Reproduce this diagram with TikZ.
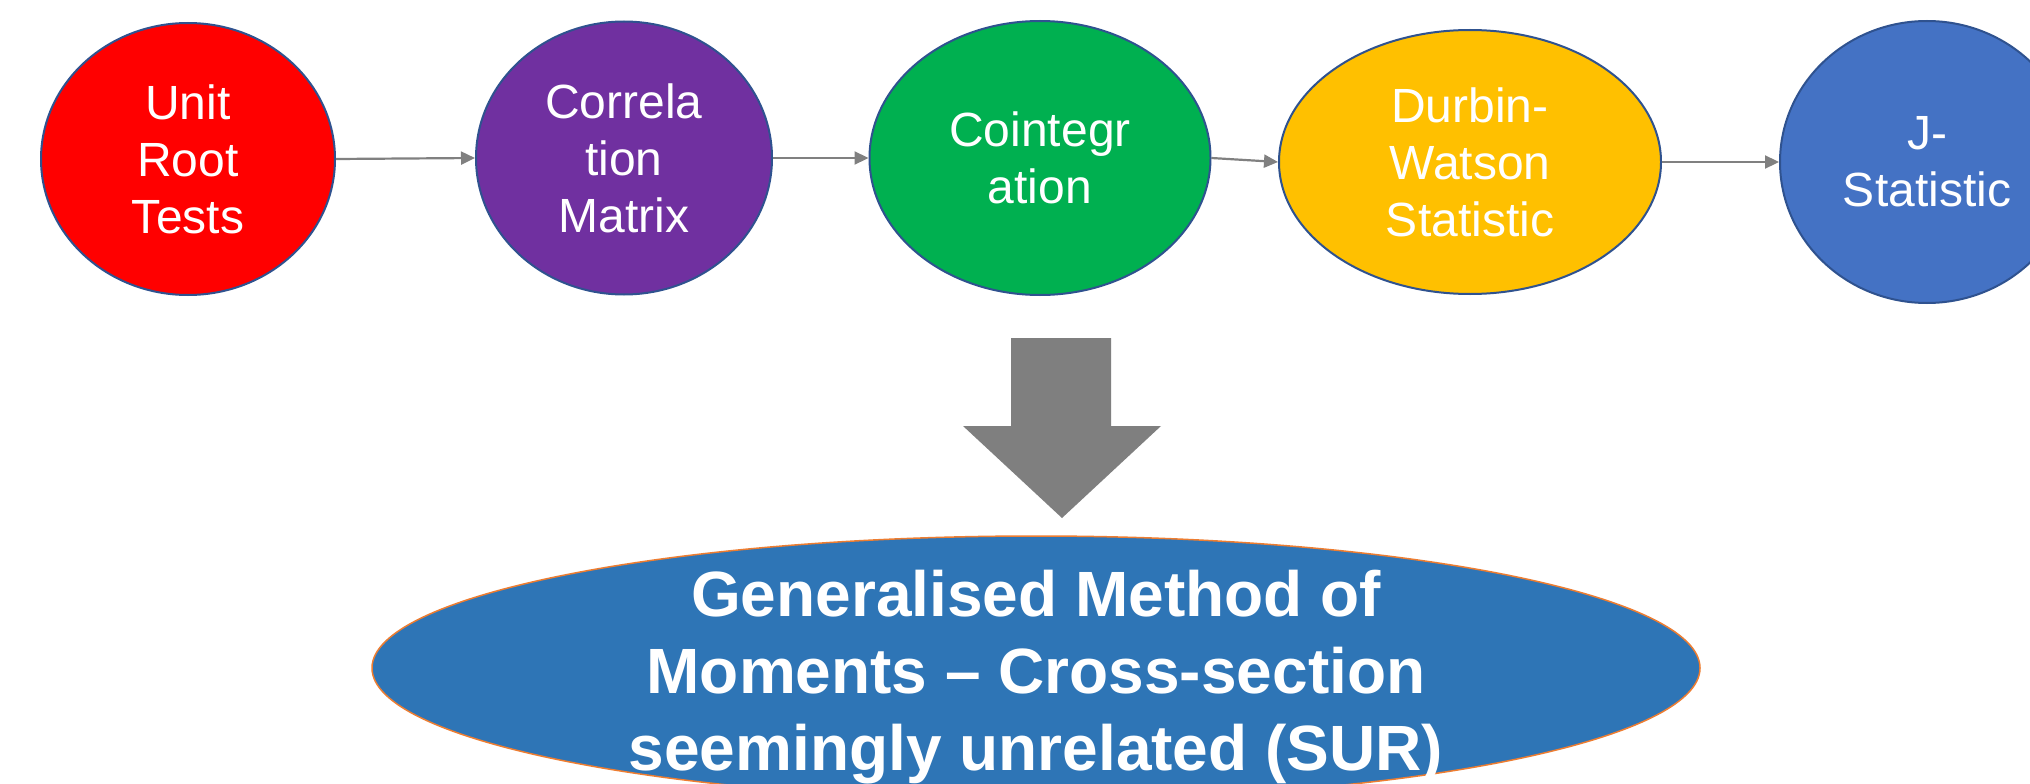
\documentclass[tikz,border=0pt]{standalone}
\usepackage{fontspec}
\setmainfont{Liberation Sans}
\usetikzlibrary{shapes.geometric,arrows.meta}
\definecolor{cred}{HTML}{FF0000}
\definecolor{cpurple}{HTML}{7030A0}
\definecolor{cgreen}{HTML}{00B050}
\definecolor{cyellow}{HTML}{FFC000}
\definecolor{cblue}{HTML}{4472C4}
\definecolor{cborder}{HTML}{2F528F}
\definecolor{cgray}{HTML}{808080}
\definecolor{cbig}{HTML}{7F7F7F}
\definecolor{csur}{HTML}{2E75B6}
\definecolor{corange}{HTML}{ED7D31}
\begin{document}
\begin{tikzpicture}[x=1pt,y=-1pt,
  stage/.style={ellipse, draw=cborder, line width=2pt, inner sep=0pt, text=white,
    align=center, font=\fontsize{48}{57}\selectfont},
  flow/.style={draw=cgray, line width=2.2pt, -{Triangle[length=14pt,width=13pt]}},
  bigarrow/.style={fill=cbig, draw=none},
  surell/.style={ellipse, fill=csur, draw=corange, line width=1.5pt, inner sep=0pt,
    minimum width=1328pt, minimum height=264pt},
  surtext/.style={text=white, align=center, font=\bfseries\fontsize{64}{77}\selectfont}
]
\useasboundingbox (0,0) rectangle (2030,784);
\clip (0,0) rectangle (2030,784);
\fill[white] (0,0) rectangle (2030,784);

\node[stage, fill=cred, minimum width=294pt, minimum height=272pt] (unit) at (188,159) {Unit\\Root\\Tests};
\node[stage, fill=cpurple, minimum width=296pt, minimum height=273pt] (corr) at (624,158) {Correla\\tion\\Matrix};
\node[stage, fill=cgreen, minimum width=341pt, minimum height=274pt] (coint) at (1040,158) {Cointegr\\ation};
\node[stage, fill=cyellow, minimum width=382pt, minimum height=264pt] (dw) at (1470,162) {Durbin-\\Watson\\Statistic};
\node[stage, fill=cblue, minimum width=294pt, minimum height=282pt] (jstat) at (1927,162) {J-\\Statistic};

\draw[flow] (unit.east) -- (corr.west);
\draw[flow] (corr.east) -- (coint.west);
\draw[flow] (coint.east) -- (dw.west);
\draw[flow] (dw.east) -- (jstat.west);

\fill[bigarrow] (1011,338) -- (1111,338) -- (1111,426) -- (1161,426) -- (1062,518) -- (963,426) -- (1011,426) -- cycle;

\node[surell] (gmm) at (1036,668) {};
\node[surtext] (gmmtext) at (1036,677) {Generalised Method of\\Moments – Cross-section\\seemingly unrelated (SUR)};
\end{tikzpicture}
\end{document}
